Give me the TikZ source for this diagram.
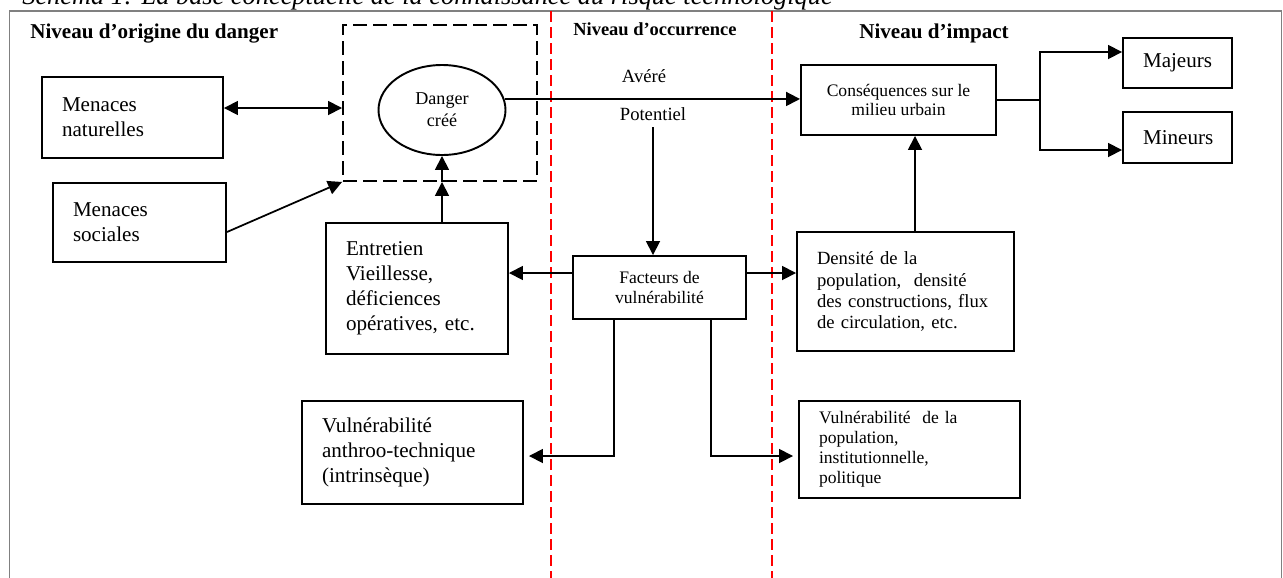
\documentclass[tikz,border=0pt]{standalone}
\usepackage{fontspec}
\setmainfont{Liberation Serif}
\usetikzlibrary{arrows.meta,positioning,shapes.geometric}

\newcommand\grand{\fontsize{12}{14.2}\selectfont}
\newcommand\moyen{\fontsize{10.6}{12}\selectfont}
\newcommand\petit{\fontsize{10}{11.3}\selectfont}

\begin{document}
\begin{tikzpicture}[
  >={Triangle[length=2.8mm,width=2.8mm]},
  cadre/.style={draw,line width=1.1pt,inner xsep=4mm,inner ysep=0pt,
    align=left,font=\grand},
  cadrec/.style={draw,line width=1.1pt,inner sep=0pt,align=center,font=\petit},
  niveau/.style={anchor=base west,inner sep=0pt,
    font=\bfseries\fontsize{12}{14}\selectfont},
  fleche/.style={line width=1pt},
  limite/.style={draw=red,line width=0.8pt,dash pattern=on 2.2mm off 1mm},
  etiq/.style={anchor=base,inner sep=0pt,font=\moyen}
]
\useasboundingbox (0,0) rectangle (25.66,-11.54);

% titre, coupe en haut
\node[anchor=base west,inner sep=0pt,font=\itshape\fontsize{15}{17}\selectfont]
 (titre) at (0.44,-0.09)
 {Schéma 1: La base conceptuelle de la connaissance du risque technologique};

% cadre et limites des niveaux
\draw[gray,line width=0.8pt] (0.19,-11.8) -- (0.19,-0.22) -- (25.63,-0.22) -- (25.63,-11.8);
\draw[limite] (11.02,-0.22) -- (11.02,-11.8);
\draw[limite] (15.44,-0.22) -- (15.44,-11.8);

\node[niveau] (hOrigine) at (0.60,-0.76) {Niveau d’origine du danger};
\node[niveau,font=\bfseries\fontsize{10.5}{12}\selectfont] (hOccur) at (11.46,-0.70)
 {Niveau d’occurrence};
\node[niveau] (hImpact) at (17.18,-0.76) {Niveau d’impact};

% origine du danger
\node[draw,line width=1.1pt,dash pattern=on 2.8mm off 1.2mm,
  minimum width=3.88cm,minimum height=3.12cm] (groupe) at (8.80,-2.06) {};
\node[draw,ellipse,line width=1.1pt,minimum width=2.54cm,minimum height=1.80cm,
  inner sep=0pt,align=center,font=\fontsize{10.3}{12.4}\selectfont]
 (danger) at (8.84,-2.20) {Danger\\créé};
\node[cadre,text width=2.82cm,minimum height=1.62cm] (natur) at (2.65,-2.35)
 {Menaces\\naturelles};
\node[cadre,text width=2.66cm,minimum height=1.58cm] (social) at (2.79,-4.45)
 {Menaces\\sociales};
\node[cadre,text width=2.84cm,minimum height=2.62cm] (entret) at (8.34,-5.77)
 {Entretien\\Vieillesse,\\déficiences\\opératives, etc.};
\node[cadre,text width=3.62cm,minimum height=2.06cm] (anthro) at (8.25,-9.05)
 {Vulnérabilité\\anthroo-technique\\(intrinsèque)};

% occurrence
\node[etiq] (avere) at (12.88,-1.64) {Avéré};
\node[etiq] (potent) at (13.06,-2.40) {Potentiel};
\node[cadrec,minimum width=3.46cm,minimum height=1.26cm] (facteur) at (13.19,-5.75)
 {Facteurs de\\vulnérabilité};

% impact
\node[cadrec,minimum width=3.90cm,minimum height=1.40cm] (conseq) at (17.97,-2.00)
 {Conséquences sur le\\milieu urbain};
\node[cadre,font=\moyen,text width=3.54cm,minimum height=2.38cm] (densite) at (18.11,-5.83)
 {Densité de la\\population,\ \ densité\\des constructions, flux\\de circulation, etc.};
\node[cadre,font=\petit,text width=3.62cm,minimum height=1.94cm] (vulnpop) at (18.19,-8.99)
 {Vulnérabilité\ \ de la\\population,\\institutionnelle,\\politique};
\node[cadre,text width=1.38cm,minimum height=1.00cm] (majeurs) at (23.55,-1.26) {Majeurs};
\node[cadre,text width=1.38cm,minimum height=1.02cm] (mineurs) at (23.55,-2.75) {Mineurs};
\coordinate (fourche) at (20.80,-2.00);

% liens
\draw[fleche,<->] ([yshift=1.9mm]natur.east) -- ([yshift=-1mm]groupe.west);
\draw[fleche,->] ([yshift=-1.9mm]social.east) -- (groupe.south west);
\draw[fleche,->] (entret.north -| danger) -- (groupe.south -| danger);
\draw[fleche,->] (groupe.south -| danger) -- (danger.south);
\draw[fleche,->] (danger.10) -- (danger.10 -| conseq.west);
\draw[fleche,->] ([yshift=-1.3mm]potent.south) -- (potent.south |- facteur.north);
\draw[fleche,->] ([yshift=2.9mm]facteur.west) -- ([yshift=3.1mm]entret.east);
\draw[fleche,->] ([yshift=2.9mm]facteur.east) -- ([yshift=3.7mm]densite.west);
\draw[fleche,->] ([xshift=1.9mm]densite.north) -- ([xshift=3.3mm]conseq.south);
\draw[fleche] (conseq.east) -- (fourche);
\draw[fleche,->] (fourche) |- ([yshift=2.2mm]majeurs.west);
\draw[fleche,->] (fourche) |- ([yshift=-2.5mm]mineurs.west);
\draw[fleche,->,shorten >=1mm] ([xshift=-9.1mm]facteur.south) |- ([yshift=-0.7mm]anthro.east);
\draw[fleche,->,shorten >=1mm] ([xshift=10.3mm]facteur.south) |- ([yshift=-1.3mm]vulnpop.west);
\end{tikzpicture}
\end{document}
